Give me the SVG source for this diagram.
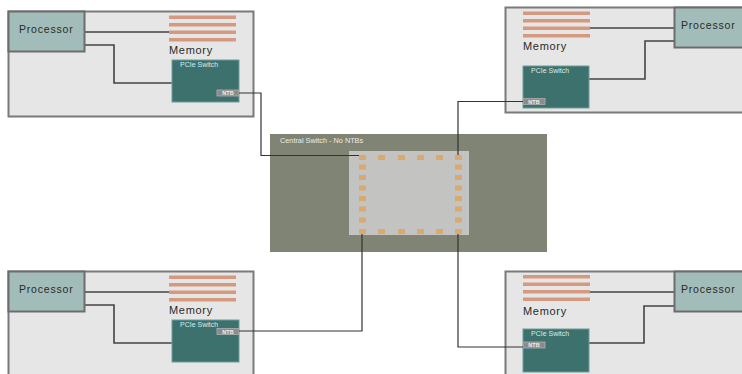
<svg xmlns="http://www.w3.org/2000/svg" width="742" height="374" viewBox="0 0 742 374">
<style>
.outer{fill:#e6e6e6;stroke:#7a7a7a;stroke-width:2}
.proc{fill:#a2bdb9;stroke:#6c6c6c;stroke-width:2}
.ptxt{font-family:"Liberation Sans",Arial,sans-serif;font-size:10.5px;letter-spacing:0.8px;fill:#2a2a2a}
.mem{fill:#d4997f}
.mtxt{font-family:"Liberation Sans",Arial,sans-serif;font-size:11px;letter-spacing:0.7px;fill:#2a2a2a}
.pcie{fill:#3d716e;stroke:#6d9c98;stroke-width:1}
.stxt{font-family:"Liberation Sans",Arial,sans-serif;font-size:7px;fill:#d8ecea}
.ntb{fill:#8b8b8b;stroke:#b0b0b0;stroke-width:0.8}
.ntxt{font-family:"Liberation Sans",Arial,sans-serif;font-size:5.5px;fill:#f0f0f0;text-anchor:middle;font-weight:bold}
.inl{fill:none;stroke:#444;stroke-width:1.6}
.con{fill:none;stroke:#333;stroke-width:1.2}
.pad{fill:#d9aa6b}
</style>
<defs>
<g id="stripes">
<rect class="mem" x="0" y="0" width="67" height="3.5"/>
<rect class="mem" x="0" y="7.5" width="67" height="3.5"/>
<rect class="mem" x="0" y="15" width="67" height="3.5"/>
<rect class="mem" x="0" y="22.5" width="67" height="3.5"/>
</g>
</defs>

<g id="central-switch">
<rect x="270" y="134" width="277" height="118" fill="#7f8475"/>
<text x="280" y="143" font-family="Liberation Sans, Arial, sans-serif" font-size="7.3" fill="#ecece6">Central Switch - No NTBs</text>
<rect x="349" y="151" width="120" height="84" fill="#c3c3c1"/>
<g>
<rect class="pad" x="359" y="155" width="7" height="5"/>
<rect class="pad" x="378" y="155" width="7" height="5"/>
<rect class="pad" x="398" y="155" width="7" height="5"/>
<rect class="pad" x="417" y="155" width="7" height="5"/>
<rect class="pad" x="436" y="155" width="7" height="5"/>
<rect class="pad" x="455" y="155" width="7" height="5"/>
<rect class="pad" x="359" y="229" width="7" height="5"/>
<rect class="pad" x="378" y="229" width="7" height="5"/>
<rect class="pad" x="398" y="229" width="7" height="5"/>
<rect class="pad" x="417" y="229" width="7" height="5"/>
<rect class="pad" x="436" y="229" width="7" height="5"/>
<rect class="pad" x="455" y="229" width="7" height="5"/>
<rect class="pad" x="359" y="164.5" width="7" height="5"/>
<rect class="pad" x="359" y="175" width="7" height="5"/>
<rect class="pad" x="359" y="185.5" width="7" height="5"/>
<rect class="pad" x="359" y="196" width="7" height="5"/>
<rect class="pad" x="359" y="206.5" width="7" height="5"/>
<rect class="pad" x="359" y="217.5" width="7" height="5"/>
<rect class="pad" x="455" y="164.5" width="7" height="5"/>
<rect class="pad" x="455" y="175" width="7" height="5"/>
<rect class="pad" x="455" y="185.5" width="7" height="5"/>
<rect class="pad" x="455" y="196" width="7" height="5"/>
<rect class="pad" x="455" y="206.5" width="7" height="5"/>
<rect class="pad" x="455" y="217.5" width="7" height="5"/>
</g>
</g>

<g id="node-top-left">
<rect class="outer" x="8.5" y="11.5" width="245" height="105"/>
<path class="inl" d="M85 32 H169 M85 45 H114 V83 H172"/>
<rect class="proc" x="8.5" y="11.5" width="76" height="40"/>
<text class="ptxt" x="19" y="33">Processor</text>
<use href="#stripes" x="169" y="15.5"/>
<text class="mtxt" x="169" y="54">Memory</text>
<rect class="pcie" x="172" y="60" width="67" height="42"/>
<text class="stxt" x="180" y="67">PCIe Switch</text>
<rect class="ntb" x="217" y="90" width="22" height="6"/>
<text class="ntxt" x="228" y="95">NTB</text>
</g>

<g id="node-top-right">
<rect class="outer" x="505.5" y="7.5" width="240" height="105"/>
<path class="inl" d="M589 28 H674 M589 79 H645 V41 H674"/>
<rect class="proc" x="674.5" y="7.5" width="70" height="40"/>
<text class="ptxt" x="681" y="29">Processor</text>
<use href="#stripes" x="523" y="11.5"/>
<text class="mtxt" x="523" y="50">Memory</text>
<rect class="pcie" x="523" y="66" width="66" height="42"/>
<text class="stxt" x="531" y="73">PCIe Switch</text>
<rect class="ntb" x="523" y="98.5" width="22" height="6"/>
<text class="ntxt" x="534" y="103.5">NTB</text>
</g>

<g id="node-bottom-left">
<rect class="outer" x="8.5" y="271.5" width="245" height="110"/>
<path class="inl" d="M85 292 H169 M85 305 H114 V343 H172"/>
<rect class="proc" x="8.5" y="271.5" width="76" height="40"/>
<text class="ptxt" x="19" y="293">Processor</text>
<use href="#stripes" x="169" y="275.5"/>
<text class="mtxt" x="169" y="314">Memory</text>
<rect class="pcie" x="172" y="320" width="67" height="42"/>
<text class="stxt" x="180" y="327">PCIe Switch</text>
<rect class="ntb" x="217" y="328.5" width="22" height="6"/>
<text class="ntxt" x="228" y="333.5">NTB</text>
</g>

<g id="node-bottom-right">
<rect class="outer" x="505.5" y="271.5" width="240" height="110"/>
<path class="inl" d="M589 292 H674 M589 343 H644 V306 H674"/>
<rect class="proc" x="674.5" y="271.5" width="70" height="40"/>
<text class="ptxt" x="681" y="293">Processor</text>
<use href="#stripes" x="523" y="275"/>
<text class="mtxt" x="523" y="315">Memory</text>
<rect class="pcie" x="523" y="329" width="66" height="43"/>
<text class="stxt" x="531" y="336">PCIe Switch</text>
<rect class="ntb" x="523" y="342" width="22" height="6"/>
<text class="ntxt" x="534" y="347">NTB</text>
</g>

<g id="connectors">
<path class="con" d="M239 93 H261 V155.5 H359"/>
<path class="con" d="M523 101.5 H458 V155"/>
<path class="con" d="M239 331 H362 V234"/>
<path class="con" d="M523 347 H458 V234"/>
</g>
</svg>
